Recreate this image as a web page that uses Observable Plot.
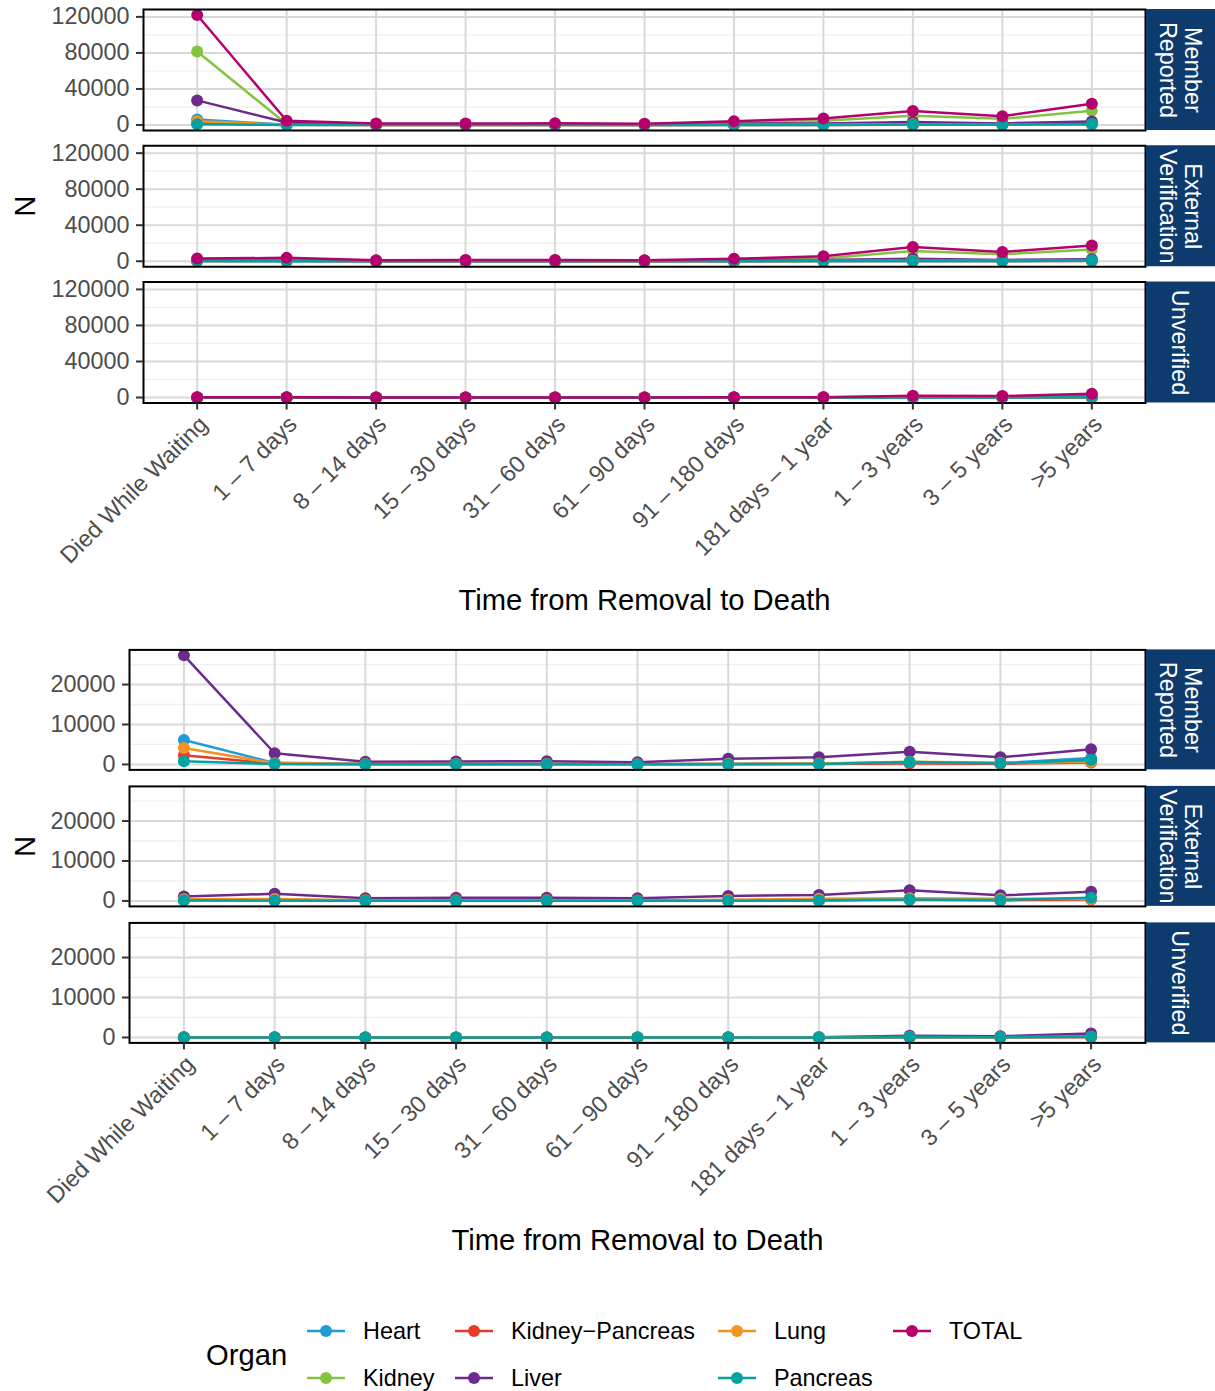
<!DOCTYPE html>
<html>
<head>
<meta charset="utf-8">
<script src="https://cdn.jsdelivr.net/npm/d3@7"></script>
<script src="https://cdn.jsdelivr.net/npm/@observablehq/plot@0.6"></script>
<style>
  body { margin: 0; background: white; }
  #wrap { width: 1215px; font-family: "Liberation Sans", Arial, Helvetica, sans-serif; }
  .lg-item { position: absolute; display: flex; align-items: center; height: 30px; }
  .lg-label { font-size: 23.4px; color: #000; white-space: nowrap; }
</style>
</head>
<body>
<div id="wrap">
  <div id="top"></div>
  <div id="bottom"></div>
  <div id="legend" style="position:relative;width:1215px;height:121px;"></div>
</div>
<script>
// ---------- data ----------
const categories = ["Died While Waiting", "1 – 7 days", "8 – 14 days", "15 – 30 days", "31 – 60 days",
  "61 – 90 days", "91 – 180 days", "181 days – 1 year", "1 – 3 years", "3 – 5 years", ">5 years"];
const statuses = ["Member Reported", "External Verification", "Unverified"];
const stripLabels = ["Member\nReported", "External\nVerification", "Unverified"];
const organs = ["Heart", "Kidney", "Kidney−Pancreas", "Liver", "Lung", "Pancreas", "TOTAL"];
const organColors = ["#1F9BD7", "#83C341", "#E83A2A", "#6C2A8C", "#F39322", "#00A3A1", "#B5006D"];
const detailOrgans = ["Heart", "Kidney−Pancreas", "Liver", "Lung", "Pancreas"];

// Member Reported
const heartMR    = [6100, 400, 150, 150, 150, 120, 200, 250, 500, 300, 1600];
const kidneyMR   = [81500, 900, 500, 600, 700, 500, 2300, 4700, 10200, 6800, 15800];
const kpMR       = [2300, 150, 60, 60, 60, 50, 80, 100, 250, 150, 500];
const liverMR    = [27300, 2800, 700, 750, 800, 550, 1400, 1800, 3200, 1800, 3800];
const lungMR     = [4100, 300, 100, 100, 100, 80, 150, 250, 700, 400, 700];
const pancreasMR = [800, 100, 50, 50, 50, 40, 60, 100, 600, 300, 1100];
const totalMR    = [122100, 4650, 1560, 1710, 1860, 1340, 4190, 7200, 15450, 9750, 23500];
// External Verification
const heartEV    = [300, 300, 100, 100, 100, 100, 150, 200, 400, 250, 600];
const kidneyEV   = [800, 900, 200, 250, 300, 250, 900, 3100, 11500, 7700, 13000];
const kpEV       = [200, 150, 50, 50, 50, 50, 80, 150, 300, 200, 350];
const liverEV    = [1100, 1800, 650, 800, 800, 650, 1250, 1500, 2700, 1400, 2300];
const lungEV     = [400, 500, 150, 150, 150, 120, 300, 550, 650, 550, 500];
const pancreasEV = [150, 100, 50, 50, 50, 40, 80, 150, 350, 250, 800];
const totalEV    = [2950, 3750, 1200, 1400, 1450, 1210, 2760, 5650, 15900, 10350, 17550];
// Unverified
const heartUV    = [30, 20, 10, 10, 10, 10, 20, 30, 150, 100, 300];
const kidneyUV   = [100, 80, 50, 50, 50, 50, 80, 200, 1200, 1000, 2500];
const kpUV       = [10, 10, 5, 5, 5, 5, 10, 20, 60, 40, 80];
const liverUV    = [50, 40, 20, 20, 20, 20, 30, 60, 400, 300, 1000];
const lungUV     = [20, 15, 10, 10, 10, 10, 15, 40, 120, 80, 150];
const pancreasUV = [10, 10, 5, 5, 5, 5, 10, 20, 80, 60, 150];
const totalUV    = [220, 175, 100, 100, 100, 100, 165, 370, 2010, 1580, 4180];

const topTicks = [0, 40000, 80000, 120000];
const topMinor = [20000, 60000, 100000];
const bottomTicks = [0, 10000, 20000];
const bottomMinor = [5000, 15000, 25000];

// ---------- table ----------
const series = {
  "Member Reported": [heartMR, kidneyMR, kpMR, liverMR, lungMR, pancreasMR, totalMR],
  "External Verification": [heartEV, kidneyEV, kpEV, liverEV, lungEV, pancreasEV, totalEV],
  "Unverified": [heartUV, kidneyUV, kpUV, liverUV, lungUV, pancreasUV, totalUV]
};
const rows = [];
for (const s of statuses) {
  organs.forEach((o, oi) => {
    series[s][oi].forEach((v, ci) => rows.push({status: s, organ: o, category: categories[ci], value: v}));
  });
}
const detailRows = rows.filter(r => detailOrgans.includes(r.organ));

const FONT = '"Liberation Sans", Arial, Helvetica, sans-serif';
const STRIP = "#0E3B6D";

function expand(data) {
  const [lo, hi] = d3.extent(data, d => d.value);
  const e = (hi - lo) * 0.05;
  return [lo - e, hi + e];
}

function chart(data, opts) {
  const W = 1215, mr = 70;
  const panelW = W - opts.ml - mr;
  return Plot.plot({
    width: W,
    height: opts.height,
    marginLeft: opts.ml,
    marginRight: mr,
    marginTop: opts.mt,
    marginBottom: opts.mb,
    style: {fontFamily: FONT, background: "white", overflow: "visible"},
    x: {type: "point", domain: categories, padding: 0.6, round: false, axis: null},
    y: {domain: expand(data), axis: null},
    fy: {domain: statuses, paddingInner: opts.pad, paddingOuter: 0, round: false, axis: null},
    color: {domain: organs, range: organColors},
    marks: [
      Plot.ruleY(opts.minor, {stroke: "#f0f0f0", strokeWidth: 1.3}),
      Plot.ruleY(opts.ticks, {stroke: "#d9d9d9", strokeWidth: 2}),
      Plot.ruleX(categories, {x: d => d, stroke: "#d9d9d9", strokeWidth: 2}),
      Plot.line(data, {x: "category", y: "value", z: "organ", stroke: "organ", fy: "status", strokeWidth: 2.5}),
      Plot.dot(data, {x: "category", y: "value", fill: "organ", r: 6, fy: "status"}),
      Plot.frame({stroke: "black", strokeWidth: 2}),
      Plot.rect(statuses, {fy: d => d, fill: STRIP, insetLeft: panelW + 1, insetRight: -mr}),
      Plot.text(statuses, {fy: d => d, text: (d, i) => stripLabels[i], frameAnchor: "right", dx: mr / 2,
        rotate: 90, fill: "white", fontSize: 23.4, textAnchor: "middle", lineAnchor: "middle", lineHeight: 1.08}),
      Plot.axisY({ticks: opts.ticks, tickSize: 7, tickFormat: () => "", stroke: "#333", strokeWidth: 2, label: null}),
      Plot.axisY({ticks: opts.ticks, tickSize: 0, tickPadding: 14, tickFormat: d3.format("d"),
        fill: "#4d4d4d", fontSize: 23.4, label: null}),
      Plot.axisX({ticks: categories, tickSize: 7, tickFormat: () => "", stroke: "#333", strokeWidth: 2, label: null}),
      Plot.text(categories, {x: d => d, fy: () => "Unverified", frameAnchor: "bottom", dy: 11, rotate: -45,
        textAnchor: "end", lineAnchor: "top", fontSize: 23.4, fill: "#4d4d4d"}),
      Plot.text(["Time from Removal to Death"], {fy: () => "Unverified", frameAnchor: "bottom", dy: 197.5,
        fontSize: 29.2, fill: "black", textAnchor: "middle", lineAnchor: "middle"}),
      Plot.text(["N"], {fy: () => "External Verification", frameAnchor: "left", dx: 25 - opts.ml, rotate: -90,
        fontSize: 29.2, fill: "black", textAnchor: "middle", lineAnchor: "middle"})
    ]
  });
}

document.getElementById("top").append(chart(rows, {
  height: 630, ml: 143, mt: 9, mb: 227.5, pad: 0.112, ticks: topTicks, minor: topMinor
}));
document.getElementById("bottom").append(chart(detailRows, {
  height: 640, ml: 129, mt: 19.4, mb: 227.6, pad: 0.121, ticks: bottomTicks, minor: bottomMinor
}));

// ---------- legend ----------
const legend = document.getElementById("legend");
const title = document.createElement("div");
title.textContent = "Organ";
title.style.cssText = "position:absolute;left:206px;top:" + (85 - 17) + "px;font-size:29.2px;line-height:34px;";
legend.append(title);
const colKey = [307, 455, 718, 893];
const rowY = [61, 108];
organs.forEach((o, i) => {
  const col = Math.floor(i / 2), row = i % 2;
  const item = document.createElement("div");
  item.className = "lg-item";
  item.style.left = colKey[col] + "px";
  item.style.top = (rowY[row] - 15) + "px";
  const c = organColors[i];
  item.innerHTML = `<svg width="38" height="30" style="margin-right:18px"><line x1="0" x2="38" y1="15" y2="15" stroke="${c}" stroke-width="2.5"/><circle cx="19" cy="15" r="6" fill="${c}"/></svg><span class="lg-label">${o}</span>`;
  legend.append(item);
});
</script>
</body>
</html>
